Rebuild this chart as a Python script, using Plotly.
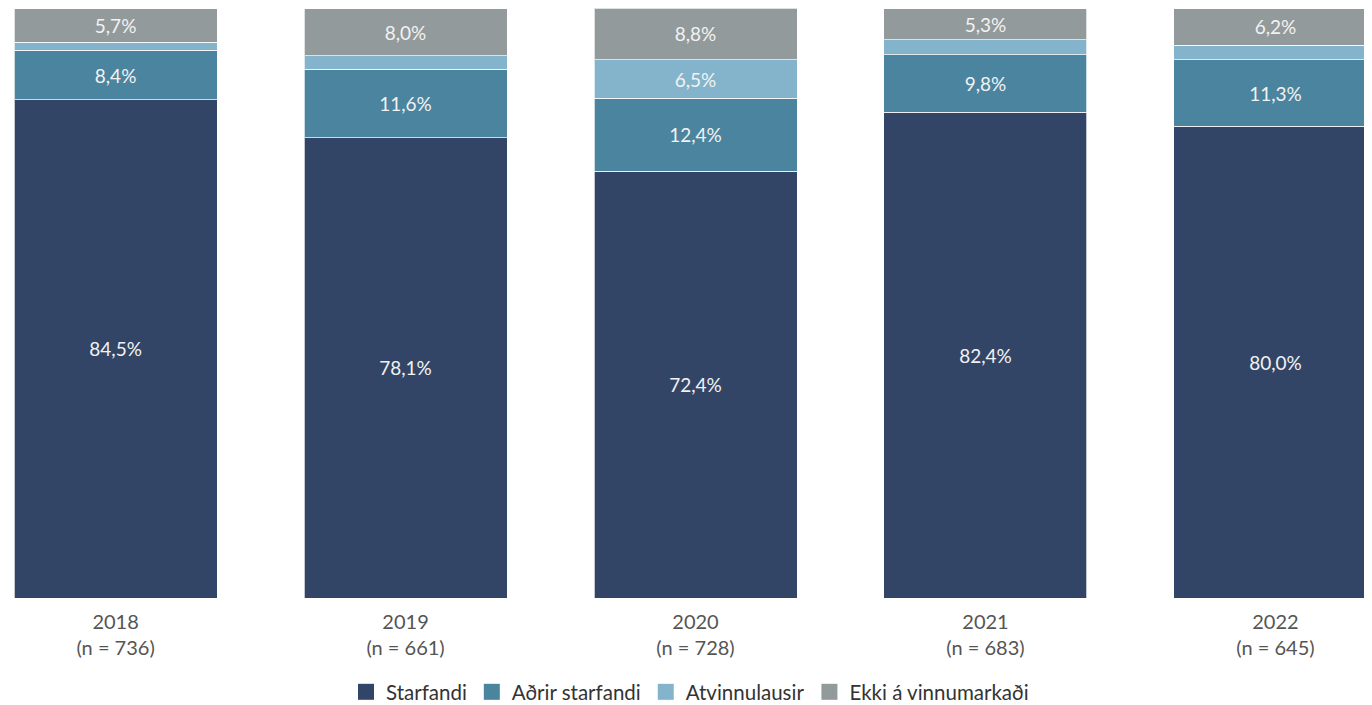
import plotly.graph_objects as go

years = ["2018", "2019", "2020", "2021", "2022"]
n_values = [736, 661, 728, 683, 645]
series_names = ["Starfandi", "Aðrir starfandi", "Atvinnulausir", "Ekki á vinnumarkaði"]
starfandi = [84.5, 78.1, 72.4, 82.4, 80.0]
adrir_starfandi = [8.4, 11.6, 12.4, 9.8, 11.3]
atvinnulausir = [1.4, 2.3, 6.5, 2.5, 2.5]
ekki_a_vinnumarkadi = [5.7, 8.0, 8.8, 5.3, 6.2]

colors = ["#324566", "#4a849f", "#83b4cb", "#939a9b"]
all_series = [starfandi, adrir_starfandi, atvinnulausir, ekki_a_vinnumarkadi]

categories = [f"{y}<br>(n = {n})" for y, n in zip(years, n_values)]

def fmt(v):
    return (f"{v:.1f}%").replace(".", ",") if v >= 5 else ""

FONT = "Lato, Noto Sans, sans-serif"

fig = go.Figure()
for name, vals, col in zip(series_names, all_series, colors):
    fig.add_trace(go.Bar(
        x=categories, y=vals, name=name, showlegend=False,
        marker=dict(color=col, line=dict(color="rgba(255,255,255,0.7)", width=1)),
        text=[fmt(v) for v in vals], textposition="inside",
        insidetextanchor="middle", textangle=0,
        textfont=dict(family=FONT, size=19, color="#f2f2f2"),
        hoverinfo="skip",
    ))
# legend entries with large square swatches
for name, col in zip(series_names, colors):
    fig.add_trace(go.Scatter(
        x=[None], y=[None], mode="markers", name=name,
        marker=dict(symbol="square", size=19, color=col),
        hoverinfo="skip",
    ))

fig.update_layout(
    barmode="stack", bargap=0.3,
    width=1364, height=697,
    margin=dict(l=0, r=0, t=0, b=107, autoexpand=False),
    plot_bgcolor="white", paper_bgcolor="white",
    font=dict(family=FONT, size=20, color="#555555"),
    showlegend=True,
    legend=dict(orientation="h", x=0.5, xanchor="center", y=-0.1593, yanchor="middle",
                font=dict(size=20.5, color="#333333"), traceorder="normal",
                itemwidth=30),
    uniformtext=dict(mode="show", minsize=10),
)
fig.update_xaxes(range=[-0.371, 4.333], showgrid=False, showline=False, ticks="",
                 tickfont=dict(size=20, color="#555555"), ticklabelstandoff=10,
                 automargin=False)
fig.update_yaxes(range=[0, 100.1], visible=False, showgrid=False, automargin=False)

fig.write_html("out.html")
